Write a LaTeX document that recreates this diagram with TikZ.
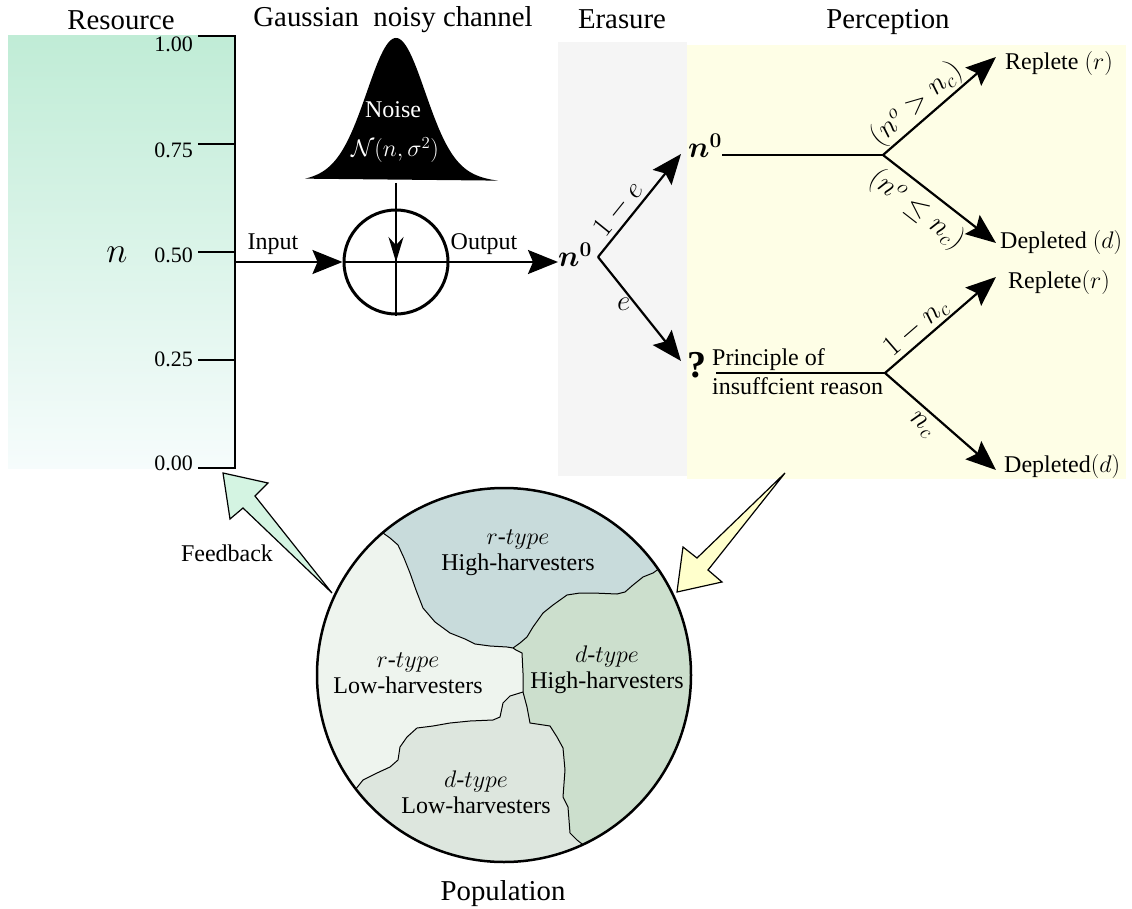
\documentclass[tikz,border=0pt]{standalone}
\usepackage{fix-cm}
\usepackage{amsmath}
\usepackage{fontspec}
\setmainfont{Liberation Serif}
\usetikzlibrary{arrows.meta}
\definecolor{resTop}{RGB}{192,236,214}
\definecolor{resBot}{RGB}{246,252,252}
\definecolor{eraGray}{RGB}{245,245,245}
\definecolor{percY}{RGB}{254,254,230}
\definecolor{popTop}{RGB}{200,219,219}
\definecolor{popLeft}{RGB}{238,244,238}
\definecolor{popRight}{RGB}{204,223,205}
\definecolor{popBot}{RGB}{221,230,222}
\definecolor{fbGreen}{RGB}{212,244,226}
\definecolor{pcYellow}{RGB}{255,255,204}
\newcommand\titlef{\fontsize{28.8}{34}\selectfont}
\newcommand\labf{\fontsize{24}{29}\selectfont}
\newcommand\mlabf{\fontsize{29}{32}\selectfont}
\newcommand\poplabf{\fontsize{24}{26}\selectfont}
\newcommand\tickf{\fontsize{22}{26}\selectfont}
\newcommand\bigf{\fontsize{30}{36}\selectfont}
\newcommand\qf{\fontsize{38}{40}\selectfont}
\newcommand\nf{\fontsize{36}{40}\selectfont}
\tikzset{
  arr/.style={line width=2.2pt, -{Stealth[length=30pt,width=24pt,inset=5pt]}},
  plainline/.style={line width=2.2pt},
  titlenode/.style={font=\titlef, anchor=base, inner sep=0},
  lab/.style={font=\labf, inner sep=0},
  slab/.style={font=\mlabf, inner sep=2pt},
  ticklab/.style={font=\tickf, anchor=base east, inner sep=0},
  region/.style={draw=black, line width=1pt, line join=round},
  bigarrow/.style={draw=black, line width=1.2pt, line join=miter},
  poplab/.style={font=\poplabf, align=center, inner sep=0},
}
\begin{document}
\begin{tikzpicture}[x=1pt,y=-1pt]
\useasboundingbox (0,0) rectangle (1132,909);

% backgrounds
\shade[top color=resTop, bottom color=resBot] (8,36) rectangle (235,468);
\fill[eraGray] (558,42) rectangle (687,476);
\fill[percY] (687,45) rectangle (1126,479);

% titles
\node[titlenode] (tRes) at (121,30) {Resource};
\node[titlenode] (tGau) at (393,27) {Gaussian\ \ noisy channel};
\node[titlenode] (tEra) at (622,29) {Erasure};
\node[titlenode] (tPer) at (888,29) {Perception};
\node[titlenode] (tPop) at (503,900) {Population};

% resource axis
\draw[line width=2pt] (198,36) -- (235,36) -- (235,468) -- (198,468);
\draw[line width=2pt] (198,144) -- (235,144);
\draw[line width=2pt] (198,252) -- (235,252);
\draw[line width=2pt] (198,360) -- (235,360);
\node[ticklab] (k100) at (193,52) {1.00};
\node[ticklab] (k075) at (193,158) {0.75};
\node[ticklab] (k050) at (193,262) {0.50};
\node[ticklab] (k025) at (193,366) {0.25};
\node[ticklab] (k000) at (193,470) {0.00};
\node[font=\nf, anchor=base, inner sep=0] (nres) at (117,262) {$n$};

% Gaussian noise
\fill[black] plot[domain=305:498, samples=150, smooth] (\x, {183-145*(0.8*exp(-((\x-396)^2)/1568)+0.2*exp(-((\x-396)^2)/4050))}) -- cycle;
\node[lab, text=white, anchor=base] (noise) at (393,118) {Noise};
\node[lab, text=white] (ndist) at (395,150) {$\mathcal{N}(n,\sigma^2)$};
\coordinate (nb) at (396,183);

% adder
\node[circle, draw, line width=3pt, minimum size=104pt, inner sep=0] (adder) at (396,262) {};
\draw[line width=2pt] (adder.west) -- (adder.east) (adder.north) -- (adder.south);
\draw[line width=2pt, -{Stealth[length=25pt,width=15pt]}] (nb) -- (adder.center);

\coordinate (inS) at (235,262);
\draw[arr] (inS) -- (adder.west);
\node[lab, anchor=base] (inlab) at (273,250) {Input};
\node[lab, anchor=base] (outlab) at (484,250) {Output};

% erasure
\node[anchor=base west, inner sep=0, font=\bigf] (n0a) at (558,267) {$\boldsymbol{n^0}$};
\draw[arr] (adder.east) -- (adder.east -| n0a.west);
\coordinate (e0) at (598,257);
\coordinate (tU) at (681,154);
\coordinate (tD) at (681,361);
\draw[arr] (e0) -- node[slab, pos=0.38, above, sloped, inner sep=2.5pt] (l1e) {$1-e$} (tU);
\draw[arr] (e0) -- node[slab, pos=0.45, left=4pt, inner sep=0] (le) {$e$} (tD);

% perception upper
\node[anchor=base west, inner sep=0, font=\bigf] (n0b) at (688,158) {$\boldsymbol{n^0}$};
\coordinate (p1) at (883,155);
\draw[plainline] (n0b.east |- p1) -- (p1);
\coordinate (tR1) at (996,57);
\coordinate (tD1) at (996,243);
\draw[arr] (p1) -- node[slab, pos=0.39, above, sloped, inner sep=1pt] (lgt) {$(n^o>n_c)$} (tR1);
\draw[arr] (p1) -- node[slab, pos=0.42, below, sloped, inner sep=7pt] (lle) {$(n^o\leq n_c)$} (tD1);
\node[lab, anchor=west] (R1) at (1005,64) {Replete $(r)$};
\node[lab, anchor=west] (D1) at (1000,243) {Depleted $(d)$};

% perception lower
\node[font=\qf\bfseries, inner sep=0] (q) at (697,365) {?};
\coordinate (qL) at (716,373);
\coordinate (p2) at (885,373);
\draw[plainline] (qL) -- (p2);
\node[anchor=west, align=left, inner sep=0, font=\labf] (pir) at (712,372) {Principle of\\insuffcient reason};
\coordinate (tR2) at (996,277);
\coordinate (tD2) at (996,470);
\draw[arr] (p2) -- node[slab, pos=0.365, above, sloped, inner sep=1.5pt] (l1n) {$1-n_c$} (tR2);
\draw[arr] (p2) -- node[slab, pos=0.42, below, sloped, inner sep=6pt] (lnc) {$n_c$} (tD2);
\node[lab, anchor=west] (R2) at (1008,283) {Replete$(r)$};
\node[lab, anchor=west] (D2) at (1004,466) {Depleted$(d)$};

% population
\begin{scope}
\clip (504,675) circle (187pt);
\fill[popLeft] (504,675) circle (187pt);
\fill[popTop] (383,533) -- (390,538) -- (398,545) -- (404,558) -- (410,573) -- (416,590) -- (423,608) -- (435,622) -- (450,633) -- (465,639) -- (475,644) -- (490,646) -- (507,647) -- (513,648) -- (520,643) -- (527,637) -- (533,627) -- (543,613) -- (553,605) -- (567,595) -- (580,593) -- (593,593) -- (617,594) -- (625,592) -- (633,585) -- (643,577) -- (653,573) -- (658,569) -- (672,548) -- (660,470) -- (380,470) -- (366,528) -- cycle;
\fill[popRight] (658,569) -- (653,573) -- (643,577) -- (633,585) -- (625,592) -- (617,594) -- (593,593) -- (580,593) -- (567,595) -- (553,605) -- (543,613) -- (533,627) -- (527,637) -- (520,643) -- (513,648) -- (516,650) -- (522,653) -- (523,673) -- (523,692) -- (527,707) -- (530,723) -- (550,726) -- (557,737) -- (563,748) -- (565,770) -- (563,797) -- (568,807) -- (570,833) -- (577,840) -- (585,845) -- (595,885) -- (720,885) -- (720,540) -- (672,548) -- cycle;
\fill[popBot] (357,788) -- (363,780) -- (377,773) -- (390,767) -- (398,760) -- (400,747) -- (407,737) -- (417,728) -- (433,726) -- (450,723) -- (470,721) -- (493,720) -- (500,717) -- (503,703) -- (510,696) -- (523,692) -- (527,707) -- (530,723) -- (550,726) -- (557,737) -- (563,748) -- (565,770) -- (563,797) -- (568,807) -- (570,833) -- (577,840) -- (585,845) -- (595,885) -- (330,885) -- (338,800) -- cycle;
\draw[region] (383,533) -- (390,538) -- (398,545) -- (404,558) -- (410,573) -- (416,590) -- (423,608) -- (435,622) -- (450,633) -- (465,639) -- (475,644) -- (490,646) -- (507,647) -- (513,648) -- (520,643) -- (527,637) -- (533,627) -- (543,613) -- (553,605) -- (567,595) -- (580,593) -- (593,593) -- (617,594) -- (625,592) -- (633,585) -- (643,577) -- (653,573) -- (660,568);
\draw[region] (513,648) -- (516,650) -- (522,653) -- (523,673) -- (523,692);
\draw[region] (523,692) -- (510,696) -- (503,703) -- (500,717) -- (493,720) -- (470,721) -- (450,723) -- (433,726) -- (417,728) -- (407,737) -- (400,747) -- (398,760) -- (390,767) -- (377,773) -- (363,780) -- (355,790);
\draw[region] (523,692) -- (527,707) -- (530,723) -- (550,726) -- (557,737) -- (563,748) -- (565,770) -- (563,797) -- (568,807) -- (570,833) -- (577,840) -- (586,847);
\end{scope}
\node[circle, draw, line width=2.5pt, minimum size=374pt, inner sep=0] (pop) at (504,675) {};

\node[poplab] (rh) at (518,553) {$r$-$type$\\High-harvesters};
\node[poplab] (rl) at (408,673) {$r$-$type$\\Low-harvesters};
\node[poplab] (dh) at (607,670) {$d$-$type$\\High-harvesters};
\node[poplab] (dl) at (476,792) {$d$-$type$\\Low-harvesters};

% feedback arrow
\filldraw[bigarrow, fill=fbGreen] (223,473) -- (268,483) -- (255,496) -- (332,593) -- (243,508) -- (230,519) -- cycle;
\node[lab, anchor=base] (fb) at (227,561) {Feedback};

% perception arrow
\filldraw[bigarrow, fill=pcYellow] (785,473) -- (708,570) -- (722,582) -- (677,592) -- (683,547) -- (697,558) -- cycle;
\end{tikzpicture}
\end{document}
